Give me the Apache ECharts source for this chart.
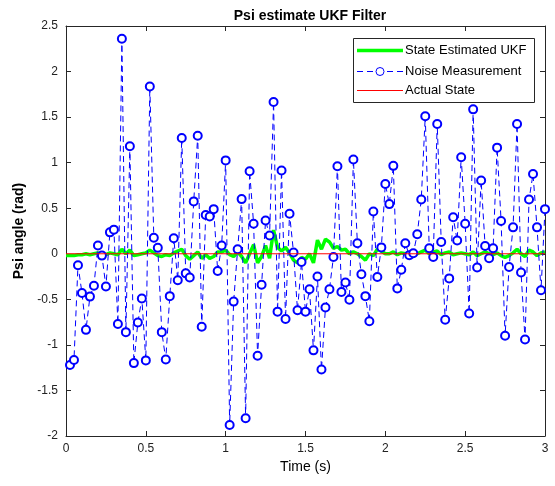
<!DOCTYPE html>
<html>
<head>
<meta charset="utf-8">
<script src="https://cdn.jsdelivr.net/npm/echarts@6/dist/echarts.min.js"></script>
<style>
html,body{margin:0;padding:0;background:#fff;}
#chart{width:555px;height:486px;}
</style>
</head>
<body>
<div id="chart"></div>
<script>
// Time stamps (s)
var timeNoise = [0.025,0.05,0.075,0.1,0.125,0.15,0.175,0.2,0.225,0.25,0.275,0.3,0.325,0.35,0.375,0.4,0.425,0.45,0.475,0.5,
0.525,0.55,0.575,0.6,0.625,0.65,0.675,0.7,0.725,0.75,0.775,0.8,0.825,0.85,0.875,0.9,0.925,0.95,0.975,1.0,
1.025,1.05,1.075,1.1,1.125,1.15,1.175,1.2,1.225,1.25,1.275,1.3,1.325,1.35,1.375,1.4,1.425,1.45,1.475,1.5,
1.525,1.55,1.575,1.6,1.625,1.65,1.675,1.7,1.725,1.75,1.775,1.8,1.825,1.85,1.875,1.9,1.925,1.95,1.975,2.0,
2.025,2.05,2.075,2.1,2.125,2.15,2.175,2.2,2.225,2.25,2.275,2.3,2.325,2.35,2.375,2.4,2.425,2.45,2.475,2.5,
2.525,2.55,2.575,2.6,2.625,2.65,2.675,2.7,2.725,2.75,2.775,2.8,2.825,2.85,2.875,2.9,2.925,2.95,2.975,3.0];
var timeEst = [0].concat(timeNoise);

// Noise Measurement (rad)
var noiseMeasurement = [-1.22,-1.165,-0.125,-0.43,-0.835,-0.47,-0.35,0.09,-0.02,-0.36,
0.235,0.265,-0.77,2.36,-0.86,1.18,-1.2,-0.755,-0.49,-1.17,
1.835,0.175,0.065,-0.86,-1.16,-0.465,0.17,-0.29,1.27,-0.215,
-0.26,0.575,1.295,-0.8,0.425,0.41,0.49,-0.19,0.09,1.025,
-1.88,-0.525,0.05,0.6,-1.805,0.905,0.33,-1.12,-0.34,0.365,
0.2,1.665,-0.635,0.915,-0.715,0.44,0.015,-0.62,-0.09,-0.635,
-0.39,-1.06,-0.25,-1.27,-0.59,-0.39,-0.035,0.96,-0.42,-0.315,
-0.505,1.035,0.115,-0.225,-0.465,-0.74,0.465,-0.255,0.07,0.765,
0.545,0.965,-0.38,-0.175,0.115,-0.015,0.005,0.215,0.595,1.51,
0.06,-0.035,1.425,0.13,-0.725,-0.27,0.4,0.145,1.06,0.33,
-0.655,1.585,-0.15,0.805,0.085,-0.05,0.06,1.165,0.36,-0.9,
-0.145,0.29,1.425,-0.205,-0.94,0.595,0.875,0.29,-0.4,0.49];

// State Estimated UKF (rad)
var stateEstimated = [-0.02,
-0.02,-0.02,-0.01,-0.01,0,-0.01,0,0.01,0,-0.01,
0.01,0,-0.01,0.05,0,0.04,-0.02,-0.01,0,0.01,
0.04,0.01,-0.02,-0.03,-0.01,-0.02,0.01,0.03,0.05,-0.02,
-0.06,-0.02,0.02,-0.05,-0.01,-0.05,-0.03,0.02,0.02,0.04,
-0.01,-0.03,0.02,-0.03,-0.1,0,0.1,-0.1,-0.03,0.09,
-0.05,0.26,0.07,0.03,0.07,0.01,-0.07,-0.1,-0.04,-0.06,
0,-0.1,0.15,0.05,0.16,0.13,0.06,0.08,0.04,0.05,
0,0.02,0,-0.03,-0.07,0,-0.02,0.05,0.03,0,
0,0.02,-0.01,0.01,0,-0.02,0.01,0,0.02,0.04,
0,0.02,0.03,-0.01,0.01,0.02,-0.01,0,0.01,0,
-0.01,0.02,-0.02,0,0.02,0,-0.01,0.01,-0.02,-0.04,
-0.02,0.01,0.05,0,-0.03,0.04,0.02,-0.02,0.01,0.02];

// Actual State (rad)
var timeActual = [0, 3];
var actualState = [0, 0];

var xTicks = ['0','0.5','1','1.5','2','2.5','3'];
var yTicks = ['-2','-1.5','-1','-0.5','0','0.5','1','1.5','2','2.5'];
var legendNames = ['State Estimated UKF','Noise Measurement','Actual State'];

function pairs(xs, ys){ var out=[]; for(var i=0;i<ys.length;i++) out.push([xs[i], ys[i]]); return out; }

var FONT = '"Liberation Sans", Arial, Helvetica, sans-serif';
var axisCol = '#262626';

// Legend box drawn as graphic (MATLAB style)
var LX = 353, LY = 38, LW = 181, LH = 64, rowsY = [50.5, 71.5, 90.5];
var legendGraphic = [
  {type:'rect', z:100, shape:{x:LX+0.5, y:LY+0.5, width:LW, height:LH}, style:{fill:'#fff', stroke:'#262626', lineWidth:1}},
  {type:'line', z:101, shape:{x1:LX+4, y1:rowsY[0], x2:LX+50, y2:rowsY[0]}, style:{stroke:'#00ff00', lineWidth:3.5}},
  {type:'line', z:101, shape:{x1:LX+4, y1:rowsY[1], x2:LX+50, y2:rowsY[1]}, style:{stroke:'#0000ff', lineWidth:1, lineDash:[6,4]}},
  {type:'circle', z:102, shape:{cx:LX+27, cy:rowsY[1], r:4}, style:{fill:'#fff', stroke:'#0000ff', lineWidth:1}},
  {type:'line', z:101, shape:{x1:LX+4, y1:rowsY[2], x2:LX+50, y2:rowsY[2]}, style:{stroke:'#ff0000', lineWidth:1}}
];
for (var i = 0; i < legendNames.length; i++) {
  legendGraphic.push({type:'text', z:102, x:LX+52, y:rowsY[i],
    style:{text:legendNames[i], fill:'#000', font:'13px ' + FONT, textVerticalAlign:'middle', verticalAlign:'middle'}});
}

var chart = echarts.init(document.getElementById('chart'), null, {renderer:'canvas'});
chart.setOption({
  animation:false,
  backgroundColor:'#fff',
  textStyle:{fontFamily:FONT},
  title:{
    text:'Psi estimate UKF Filter', left:305, textAlign:'center', top:4,
    textStyle:{fontFamily:FONT, fontSize:14, fontWeight:'bold', color:'#000'}
  },
  grid:{left:66, right:10, top:26, bottom:50, containLabel:false},
  legend:{show:false, data:legendNames},
  graphic:legendGraphic,
  xAxis:[{
    type:'value', min:0, max:3, interval:0.5, position:'bottom',
    name:'Time (s)', nameLocation:'middle', nameGap:22,
    nameTextStyle:{fontFamily:FONT, fontSize:14, color:'#000'},
    axisLine:{onZero:false, lineStyle:{color:axisCol, width:1}},
    axisTick:{inside:true, length:5, lineStyle:{color:axisCol}},
    axisLabel:{margin:7, fontSize:12, color:'#222', fontFamily:FONT,
      formatter:function(v){ var i=Math.round(v/0.5); return xTicks[i]!==undefined?xTicks[i]:''; }},
    splitLine:{show:false}
  },{
    type:'value', min:0, max:3, interval:0.5, position:'top',
    axisLine:{onZero:false, lineStyle:{color:axisCol, width:1}},
    axisTick:{inside:true, length:5, lineStyle:{color:axisCol}},
    axisLabel:{show:false}, splitLine:{show:false}
  }],
  yAxis:[{
    type:'value', min:-2, max:2.5, interval:0.5, position:'left',
    name:'Psi angle (rad)', nameLocation:'middle', nameGap:33, nameRotate:90,
    nameTextStyle:{fontFamily:FONT, fontSize:14, fontWeight:'bold', color:'#000'},
    axisLine:{show:true, onZero:false, lineStyle:{color:axisCol, width:1}},
    axisTick:{show:true, inside:true, length:5, lineStyle:{color:axisCol}},
    axisLabel:{margin:8, fontSize:12, color:'#222', fontFamily:FONT,
      formatter:function(v){ var i=Math.round((v+2)/0.5); return yTicks[i]!==undefined?yTicks[i]:''; }},
    splitLine:{show:false}
  },{
    type:'value', min:-2, max:2.5, interval:0.5, position:'right',
    axisLine:{show:true, onZero:false, lineStyle:{color:axisCol, width:1}},
    axisTick:{show:true, inside:true, length:5, lineStyle:{color:axisCol}},
    axisLabel:{show:false}, splitLine:{show:false}
  }],
  series:[{
    name:'State Estimated UKF', type:'line', xAxisIndex:0, yAxisIndex:0,
    data:pairs(timeEst, stateEstimated), symbol:'none',
    lineStyle:{color:'#00ff00', width:3.5}, itemStyle:{color:'#00ff00'}, z:2
  },{
    name:'Noise Measurement', type:'line', xAxisIndex:0, yAxisIndex:0,
    data:pairs(timeNoise, noiseMeasurement), symbol:'emptyCircle', symbolSize:8, showSymbol:true,
    lineStyle:{color:'#0000ff', width:1, type:[6,4]},
    itemStyle:{color:'#0000ff', borderColor:'#0000ff', borderWidth:1}, z:3
  },{
    name:'Actual State', type:'line', xAxisIndex:0, yAxisIndex:0,
    data:pairs(timeActual, actualState), symbol:'none',
    lineStyle:{color:'#ff0000', width:1}, itemStyle:{color:'#ff0000'}, z:4
  }]
});
</script>
</body>
</html>
